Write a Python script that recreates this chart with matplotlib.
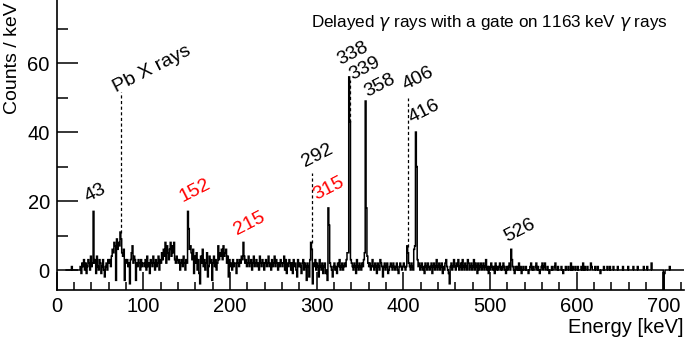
import numpy as np
import matplotlib
matplotlib.use("Agg")
import matplotlib.pyplot as plt
from matplotlib.ticker import MultipleLocator

plt.rcParams['font.family'] = ['Liberation Sans', 'DejaVu Sans']

# spectrum: 1 keV bins starting at 10 keV (counts / keV)
e_start = 10
counts = [
    0, 0, 0, 0, 0, 0, 0, 1, 0, 0,            # 10
    0, 0, 0, 0, 0, 0, 0, 1, -1, 2,           # 20
    1, 3, 0, 2, -1, 1, 3, 2, 0, 4,           # 30
    1, 2, 17, 2, 3, -1, 4, 1, 0, 3,          # 40
    2, -1, 1, 3, 0, -2, 1, 2, 0, 3,          # 50
    2, 3, 1, 4, 6, 5, 8, 7, -3, 9,           # 60
    6, 8, 7, 11, 9, 5, 4, 6, -3, 3,          # 70
    2, 3, 1, 2, -4, 3, 5, 7, 2, 4,           # 80
    3, -3, 2, 1, 3, 2, 0, 3, 1, 2,           # 90
    2, 1, 3, 0, 4, 1, 2, -1, 3, 2,           # 100
    1, 4, 2, 0, 3, 1, 2, 4, 0, 3,            # 110
    2, 5, 3, 6, 4, 8, 2, 7, 5, 3,            # 120
    6, 8, 4, 7, 5, 8, 3, 2, 4, 3,            # 130
    2, 3, 0, 2, 3, 1, 4, 2, 0, 3,            # 140
    2, 17, 12, 6, 7, 5, 3, 6, -1, 4,         # 150
    2, 5, 0, 3, -1, -4, 4, 2, 6, 1,          # 160
    3, 0, 2, 5, -2, 1, 4, 2, 3, -3,          # 170
    2, 4, 1, 3, 0, 2, 7, 3, 5, 4,            # 180
    6, 3, 7, 4, 5, 6, 2, 4, -2, 3,           # 190
    1, 2, 0, 3, 1, 2, 2, -1, 3, 2,           # 200
    1, 3, 2, 4, 3, 8, 4, 2, 3, 1,            # 210
    2, 4, 1, 2, 3, 0, 2, 4, 1, 2,            # 220
    3, 1, 2, 0, 4, 2, 1, 3, 2, 0,            # 230
    2, 3, 1, 2, 4, 1, 2, 0, 3, 1,            # 240
    2, 4, 1, 3, 2, 0, 2, 1, 3, 2,            # 250
    1, 2, 4, 0, 3, -1, 2, 1, 3, 2,           # 260
    0, 2, -1, 3, 1, 2, 0, -2, 3, 1,          # 270
    2, 1, -1, 2, 3, 0, 2, 1, -3, 2,          # 280
    1, -2, 3, 8, 6, -4, 2, 1, 3, 0,          # 290
    2, 1, -2, 3, 1, 0, 2, -1, 1, 2,          # 300
    -1, 0, -3, 18, 13, 2, 1, 0, -2, 1,       # 310
    2, 0, 1, -1, 2, 1, 3, 0, 1, 2,           # 320
    0, 1, 2, 1, 3, 5, 5, 56, 43, 3,          # 330
    2, 1, 0, 2, 1, -1, 3, 1, 0, 2,           # 340
    1, 0, 2, 1, 3, 5, 49, 18, 4, 2,          # 350
    1, 2, 0, 1, 3, 1, 0, 2, 1, -1,           # 360
    2, 1, 0, 3, 2, 1, -2, 1, 2, 0,           # 370
    1, 2, -1, 0, 1, 2, 1, 0, 2, 1,           # 380
    0, 1, 2, 0, -1, 1, 2, 1, 0, 1,           # 390
    2, 1, 0, 1, 7, 5, 2, 1, 0, 2,            # 400
    1, 0, 6, 7, 40, 30, 3, 1, 2, 0,          # 410
    1, 2, 0, 1, -1, 2, 1, 0, 2, 1,           # 420
    0, 1, 2, -1, 1, 2, 0, 1, 3, 0,           # 430
    1, 2, 0, 1, 2, -1, 1, 0, 2, 3,           # 440
    1, 0, -1, -4, 1, 2, 0, 1, 3, 1,          # 450
    0, 2, 1, 3, 0, 1, 2, 0, 3, 1,            # 460
    0, 2, 1, 0, 3, 2, 0, 1, 2, 0,            # 470
    1, 3, 0, 2, 1, -1, 2, 0, 1, 2,           # 480
    0, 1, 2, 0, 1, 3, 0, 1, -1, 1,           # 490
    0, 2, 1, 0, 1, -1, 2, 0, 1, 0,           # 500
    1, 2, 0, 1, 0, 2, 1, 0, -1, 1,           # 510
    0, 1, 2, 0, 6, 3, 1, 0, -1, 1,           # 520
    0, 1, 0, 2, 0, 1, -1, 0, 1, 0,           # 530
    0, 1, 0, 0, -1, 0, 1, 2, 0, 1,           # 540
    0, 0, 1, 2, 0, 1, 0, -1, 0, 1,           # 550
    2, 0, 1, 2, 0, 0, 1, 0, -1, 0,           # 560
    0, 1, 0, 0, 1, 2, 0, 0, 1, 0,            # 570
    0, 0, 1, 0, -1, 0, 0, 1, 0, 0,           # 580
    1, 0, 0, 2, 0, 1, 0, 0, 1, 0,            # 590
    0, 1, 0, 0, 0, 1, 0, 2, 0, 1,            # 600
    0, 0, 1, 0, 0, 0, 2, 1, 0, 0,            # 610
    0, 1, 0, 0, 1, 0, 0, -1, 0, 0,           # 620
    0, 1, 0, 0, 0, 1, 0, 0, 1, 0,            # 630
    0, 0, 1, 0, 0, 0, 0, 1, 0, 0,            # 640
    0, 0, 0, 1, 0, 0, 0, 0, 0, 1,            # 650
    0, 0, 0, 0, 0, 1, 0, 0, 0, 0,            # 660
    1, 0, 0, 0, 0, 0, 0, 1, 0, 0,            # 670
    0, 1, 0, 0, 0, 0, 2, 0, 0, 0,            # 680
    0, 0, 0, 0, 0, 0, 0, 0, 0, 0,            # 690
    -6, -1, 0, 0, 0, 0, 0, 1, 0, 0,          # 700
    0, 0, 0, 0, 0, 0, 0, 0, 0, 0,            # 710
    0, 0, 0, 0,                              # 720
]

# peak labels: text, colour, anchor energy, anchor counts
label_text = ["43", "Pb X rays", "152", "215", "292", "315", "338", "339", "358", "406", "416", "526"]
label_color = ["k", "k", "r", "r", "k", "r", "k", "k", "k", "k", "k", "k"]
label_x = [36, 68.5, 145.5, 208, 286.5, 300, 327, 341, 358, 402, 410, 519.5]
label_y = [19.7, 51.6, 19.7, 10.1, 29.9, 20.3, 59.4, 55.1, 50.1, 52.2, 42.6, 8.1]

# dashed markers: energy, low, high
mark_x = [74.2, 294.2, 338.4, 405]
mark_lo = [10.7, 7.8, 43, 6.7]
mark_hi = [51.7, 28, 55, 50]

edges = np.arange(e_start, e_start + len(counts) + 1)

fig = plt.figure(figsize=(6.85, 3.42), dpi=100)
ax = fig.add_axes([56.7 / 685, 52 / 342, (684 - 56.7) / 685, 290 / 342])

ax.stairs(counts, edges, baseline=None, color='black', lw=1.1)
ax.vlines(mark_x, mark_lo, mark_hi, colors='black', linestyles=(0, (2.5, 2)), lw=0.9)

for t, c, x, y in zip(label_text, label_color, label_x, label_y):
    ax.text(x, y, t, color=c, fontsize=14, rotation=27, rotation_mode='anchor',
            ha='left', va='baseline')

ax.text(0.9745, 0.92, r"Delayed $\gamma$ rays with a gate on 1163 keV $\gamma$ rays",
        transform=ax.transAxes, ha='right', va='center', fontsize=12.3)

ax.set_xlim(0, 723.9)
ax.set_ylim(-5.8, 78.3)
ax.xaxis.set_major_locator(MultipleLocator(100))
ax.xaxis.set_minor_locator(MultipleLocator(20))
ax.yaxis.set_major_locator(MultipleLocator(20))
ax.yaxis.set_minor_locator(MultipleLocator(10))

ax.spines['top'].set_visible(False)
ax.spines['right'].set_visible(False)
for s in ['left', 'bottom']:
    ax.spines[s].set_linewidth(1.2)
ax.tick_params(which='both', direction='in', width=1.1, labelsize=14.5)
ax.tick_params(axis='y', which='major', length=15, pad=5)
ax.tick_params(axis='y', which='minor', length=8)
ax.tick_params(axis='x', which='major', length=13, pad=5)
ax.tick_params(axis='x', which='minor', length=6)

ax.set_xlabel("Energy [keV]", fontsize=14.5, loc='right')
ax.xaxis.set_label_coords(1.0, -0.095)
ax.set_ylabel("Counts / keV", fontsize=14, loc='top')
ax.yaxis.set_label_coords(-0.057, 0.993)

fig.savefig("out.png", dpi=100)
